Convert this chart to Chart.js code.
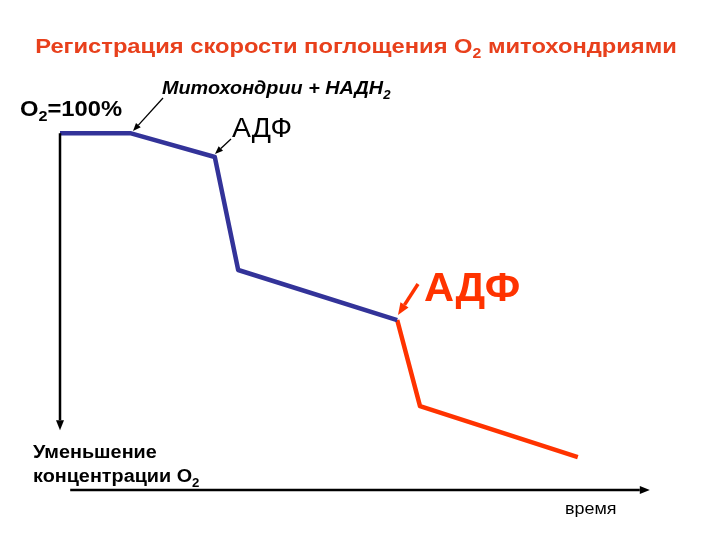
<!DOCTYPE html>
<html><head><meta charset="utf-8">
<script src="https://cdn.jsdelivr.net/npm/chart.js"></script>
<style>html,body{margin:0;padding:0;background:#fff}#w{width:720px;height:540px}</style>
</head><body><div id="w"><canvas id="c"></canvas></div>
<script>
// time (arbitrary units) and O2 concentration (%)
const blueTime = [10, 21.7, 35.8, 39.7, 66.2];
const blueO2   = [100, 100, 93.4, 62.0, 48.1];
const redTime  = [66.2, 70.0, 96.3];
const redO2    = [48.1, 24.2, 10.0];
const vAxis = {t: 10, from: 100, to: 17.5};
const hAxis = {o2: 0.9, from: 11.7, to: 108.3};

function pts(t, v){ return t.map((x,i)=>({x, y:v[i]})); }

function arrow(ctx, x1,y1,x2,y2, w, head, col){
  ctx.save(); ctx.strokeStyle=col; ctx.fillStyle=col; ctx.lineWidth=w;
  const a=Math.atan2(y2-y1,x2-x1);
  const bx=x2-head*Math.cos(a), by=y2-head*Math.sin(a);
  ctx.beginPath(); ctx.moveTo(x1,y1); ctx.lineTo(bx,by); ctx.stroke();
  ctx.beginPath(); ctx.moveTo(x2,y2);
  ctx.lineTo(bx+head*0.4*Math.sin(a), by-head*0.4*Math.cos(a));
  ctx.lineTo(bx-head*0.4*Math.sin(a), by+head*0.4*Math.cos(a));
  ctx.closePath(); ctx.fill(); ctx.restore();
}
// draws parts [[text, font, dy]] starting at x,y with horizontal stretch k; returns width
function txt(ctx, parts, x, y, k, col, measureOnly){
  ctx.save(); ctx.fillStyle=col; ctx.translate(x,y); ctx.scale(k,1);
  let cx=0;
  for(const [s,f,dy] of parts){ ctx.font=f; if(!measureOnly) ctx.fillText(s,cx,dy||0); cx+=ctx.measureText(s).width; }
  ctx.restore(); return cx*k;
}
const F='"Liberation Sans", Arial, sans-serif';

const deco = {
  id:'deco',
  afterDraw(chart){
    const ctx=chart.ctx, sx=chart.scales.x, sy=chart.scales.y;
    const vx=sx.getPixelForValue(vAxis.t);
    arrow(ctx, vx, sy.getPixelForValue(vAxis.from), vx, sy.getPixelForValue(vAxis.to), 2.5, 10, '#000');
    const hy=sy.getPixelForValue(hAxis.o2);
    arrow(ctx, sx.getPixelForValue(hAxis.from), hy, sx.getPixelForValue(hAxis.to), hy, 2.5, 10, '#000');
    ctx.save(); ctx.textBaseline='alphabetic'; ctx.textAlign='left';
    const title=[['Регистрация скорости поглощения O','bold 21px '+F],['2','bold 14px '+F,5],[' митохондриями','bold 21px '+F]];
    const tw=txt(ctx,title,0,0,1.13,'#e8401c',true);
    txt(ctx,title,356-tw/2,53,1.13,'#e8401c');
    txt(ctx,[['O','bold 22px '+F],['2','bold 15px '+F,5],['=100%','bold 22px '+F]],20,116,1.08,'#000');
    txt(ctx,[['Митохондрии + НАДН','italic bold 18px '+F],['2','italic bold 12px '+F,5]],162,94,1.1,'#000');
    arrow(ctx,163,98,133,131,1.3,8,'#000');
    txt(ctx,[['АДФ','27px '+F]],232,137,1.05,'#000');
    arrow(ctx,231,139,215,154,1.3,8,'#000');
    txt(ctx,[['АДФ','bold 40px '+F]],424,301,1.04,'#ff3300');
    arrow(ctx,418,284,398,315,3.5,12,'#ff3300');
    txt(ctx,[['Уменьшение','bold 18px '+F]],33,458,1.1,'#000');
    txt(ctx,[['концентрации O','bold 18px '+F],['2','bold 12px '+F,5]],33,482,1.1,'#000');
    txt(ctx,[['время','16px '+F]],565,514,1.12,'#000');
    ctx.restore();
  }
};

new Chart(document.getElementById('c'), {
  type:'scatter',
  data:{datasets:[
    {data:pts(blueTime,blueO2), showLine:true, borderColor:'#333399', borderWidth:4.5, pointRadius:0, fill:false, borderJoinStyle:'round'},
    {data:pts(redTime,redO2), showLine:true, borderColor:'#ff3300', borderWidth:4.5, pointRadius:0, fill:false, borderJoinStyle:'round'}
  ]},
  options:{
    responsive:true, maintainAspectRatio:false, animation:false,
    layout:{padding:0},
    plugins:{legend:{display:false}, tooltip:{enabled:false}},
    scales:{
      x:{type:'linear', min:0, max:120, display:false},
      y:{type:'linear', min:-13, max:137, display:false}
    }
  },
  plugins:[deco]
});
</script></body></html>
